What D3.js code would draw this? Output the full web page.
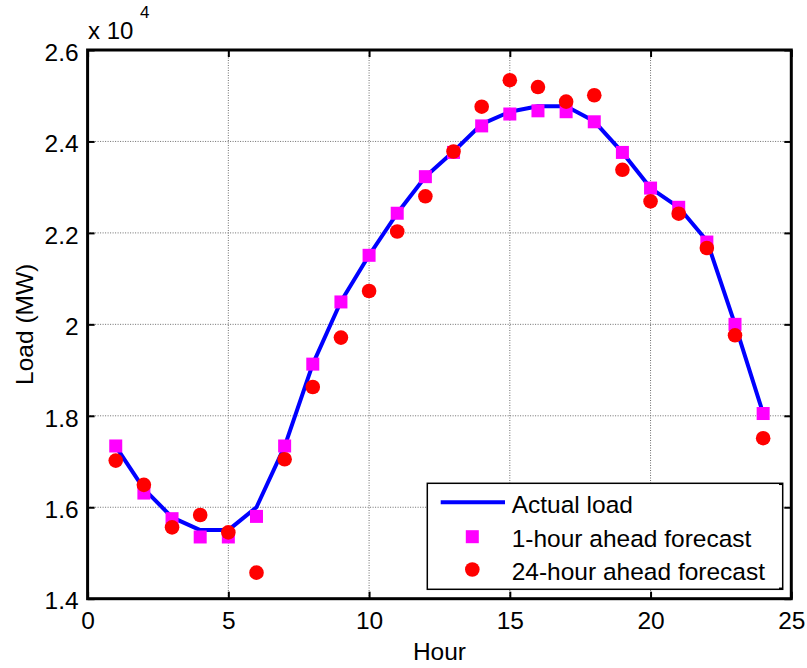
<!DOCTYPE html>
<html>
<head>
<meta charset="utf-8">
<script src="https://cdn.jsdelivr.net/npm/d3@7"></script>
<style>
  html, body { margin: 0; padding: 0; background: #fff; }
  svg { display: block; font-family: "Liberation Sans", Arial, sans-serif; }
</style>
</head>
<body>
<svg id="chart" width="807" height="668"></svg>
<script>
// ---- data (MW) ----
const hours = [1,2,3,4,5,6,7,8,9,10,11,12,13,14,15,16,17,18,19,20,21,22,23,24];
const actualLoad = [17330,16400,15780,15500,15500,16000,17330,19130,20500,21510,22430,23230,23780,24380,24650,24770,24770,24440,23760,22980,22560,21830,20000,18050];
const oneHourForecast = [17340,16310,15750,15350,15350,15800,17340,19130,20490,21510,22430,23230,23760,24340,24600,24670,24650,24430,23760,22980,22560,21800,20000,18050];
const dayAheadForecast = [17020,16490,15560,15830,15450,14570,17050,18630,19710,20730,22030,22800,23780,24760,25340,25190,24870,25010,23380,22690,22420,21670,19760,17510];
const xTicks = [0,5,10,15,20,25];
const yTicks = [14000,16000,18000,20000,22000,24000,26000];
const legendLabels = ["Actual load","1-hour ahead forecast","24-hour ahead forecast"];

const svg = d3.select("#chart");
const L = 87.6, R = 791.3, T = 50, B = 598.7;
const x = d3.scaleLinear().domain([0,25]).range([L,R]);
const y = d3.scaleLinear().domain([14000,26000]).range([B,T]);
const FS = 24.5;

// grid
const grid = svg.append("g");
grid.selectAll(".gx").data(xTicks.slice(1,-1)).enter().append("line")
  .attr("x1", d=>x(d)).attr("x2", d=>x(d)).attr("y1", T).attr("y2", B)
  .attr("stroke", "#6e6e6e").attr("stroke-width", 1).attr("stroke-dasharray", "1,1.5");
grid.selectAll(".gy").data(yTicks.slice(1,-1)).enter().append("line")
  .attr("x1", L).attr("x2", R).attr("y1", d=>y(d)).attr("y2", d=>y(d))
  .attr("stroke", "#6e6e6e").attr("stroke-width", 1).attr("stroke-dasharray", "1,1.5");

// axes (inward ticks on all sides)
const tickLen = 7;
const axB = svg.append("g").attr("transform", `translate(0,${B})`)
  .call(d3.axisBottom(x).tickValues(xTicks).tickSizeInner(-tickLen).tickSizeOuter(0).tickPadding(13).tickFormat(d3.format("d")));
const axT = svg.append("g").attr("transform", `translate(0,${T})`)
  .call(d3.axisTop(x).tickValues(xTicks).tickSizeInner(-tickLen).tickSizeOuter(0).tickFormat(""));
const axL = svg.append("g").attr("transform", `translate(${L},0)`)
  .call(d3.axisLeft(y).tickValues(yTicks).tickSizeInner(-tickLen).tickSizeOuter(0).tickPadding(9).tickFormat(d => d3.format("")(d/10000)));
const axR = svg.append("g").attr("transform", `translate(${R},0)`)
  .call(d3.axisRight(y).tickValues(yTicks).tickSizeInner(-tickLen).tickSizeOuter(0).tickFormat(""));
[axB, axT, axL, axR].forEach(a => {
  a.select(".domain").remove();
  a.selectAll(".tick line").attr("stroke", "#000").attr("stroke-width", 2);
  a.selectAll("text").attr("font-size", FS).attr("fill", "#000").attr("font-family", "Liberation Sans, Arial, sans-serif");
});
axL.selectAll("text").attr("dy", "0.42em");

// box
svg.append("rect").attr("x", L).attr("y", T).attr("width", R-L).attr("height", B-T)
  .attr("fill", "none").attr("stroke", "#000").attr("stroke-width", 3);

// actual line
svg.append("path").datum(hours.map((h,i)=>[h, actualLoad[i]]))
  .attr("d", d3.line().x(d=>x(d[0])).y(d=>y(d[1])))
  .attr("fill", "none").attr("stroke", "#0000ff").attr("stroke-width", 4).attr("stroke-linejoin", "round");

// squares
const sq = 13;
svg.append("g").selectAll("rect").data(hours.map((h,i)=>[h, oneHourForecast[i]])).enter().append("rect")
  .attr("x", d=>x(d[0])-sq/2).attr("y", d=>y(d[1])-sq/2).attr("width", sq).attr("height", sq)
  .attr("fill", "#ff00ff");

// circles
svg.append("g").selectAll("circle").data(hours.map((h,i)=>[h, dayAheadForecast[i]])).enter().append("circle")
  .attr("cx", d=>x(d[0])).attr("cy", d=>y(d[1])).attr("r", 7.3)
  .attr("fill", "#ff0000");

// axis labels
svg.append("text").attr("x", (L+R)/2).attr("y", 660).attr("text-anchor", "middle")
  .attr("font-size", FS).text("Hour");
svg.append("text").attr("transform", `translate(33,${(T+B)/2}) rotate(-90)`).attr("text-anchor", "middle")
  .attr("font-size", FS).text("Load (MW)");

// exponent
svg.append("text").attr("x", 88).attr("y", 39).attr("font-size", 24).text("x 10");
svg.append("text").attr("x", 140).attr("y", 18).attr("font-size", 17).text("4");

// legend
const lg = svg.append("g");
lg.append("rect").attr("x", 427.3).attr("y", 483.3).attr("width", 355.4).attr("height", 106)
  .attr("fill", "#fff").attr("stroke", "#000").attr("stroke-width", 1.5);
// small legend-box ticks on right edge
[483.3, 589.3].forEach((ty, i) => {
  lg.append("line").attr("x1", 782.7).attr("x2", 779).attr("y1", ty + (i ? -1 : 1)).attr("y2", ty + (i ? -1 : 1))
    .attr("stroke", "#000").attr("stroke-width", 1.5);
});
const rowY = [502.3, 536.7, 569.5];
lg.append("line").attr("x1", 440.7).attr("x2", 505).attr("y1", rowY[0]).attr("y2", rowY[0])
  .attr("stroke", "#0000ff").attr("stroke-width", 4);
lg.append("rect").attr("x", 472.3-sq/2).attr("y", rowY[1]-sq/2).attr("width", sq).attr("height", sq).attr("fill", "#ff00ff");
lg.append("circle").attr("cx", 472.3).attr("cy", rowY[2]).attr("r", 7.3).attr("fill", "#ff0000");
lg.selectAll("text.lab").data(legendLabels).enter().append("text")
  .attr("x", 511.7).attr("y", (d,i)=>rowY[i]+10.5).attr("font-size", FS).text(d=>d);
</script>
</body>
</html>
